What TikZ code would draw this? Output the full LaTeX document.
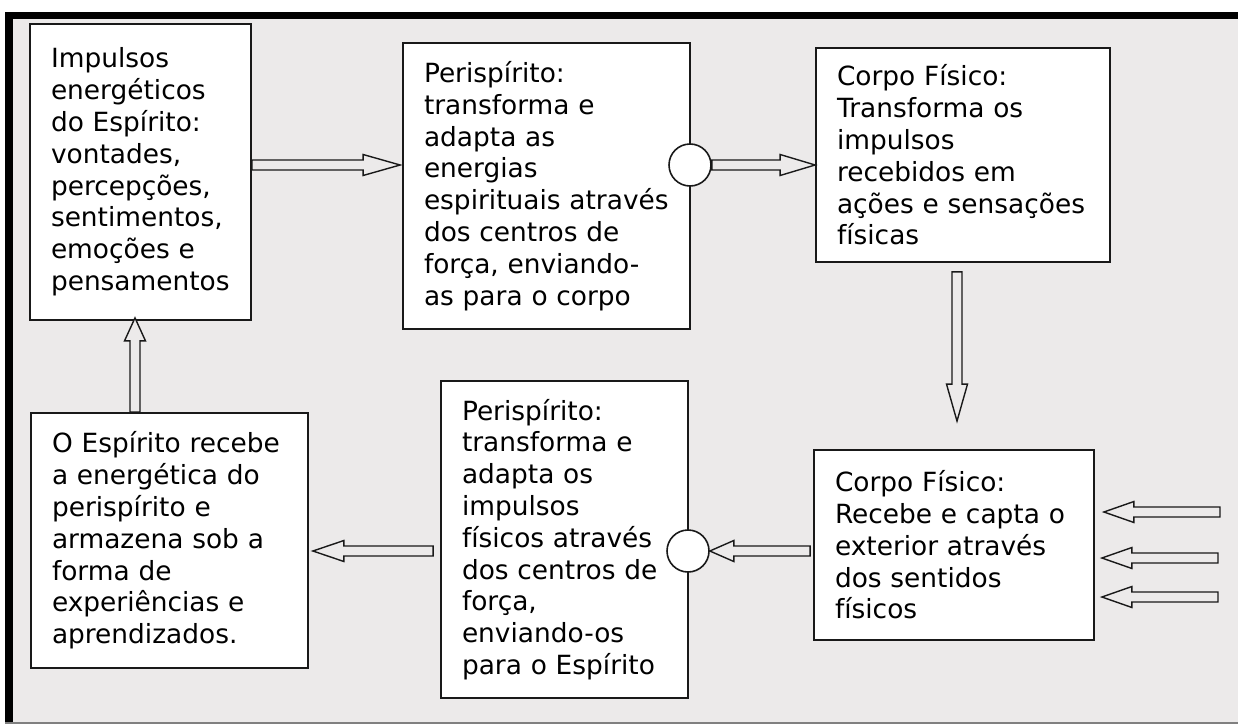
\documentclass[tikz,border=0pt]{standalone}
\usepackage{fontspec}
\setmainfont{DejaVu Sans}
\usetikzlibrary{calc}
\definecolor{bgc}{RGB}{236,234,234}
\definecolor{edge}{RGB}{25,25,25}
\newcommand\bxfont{\fontsize{26.4pt}{31.8pt}\selectfont}
% block arrow from #2 (tail) to #3 (tip), head length #1
\newcommand\blockarr[3][33pt]{%
  \path (#2) coordinate (ta) (#3) coordinate (tb);
  \path ($(tb)!#1!(ta)$) coordinate (hb);
  \draw[arrline] ($(ta)!5pt!90:(tb)$) -- ($(hb)!5pt!90:(tb)$) -- ($(hb)!10.5pt!90:(tb)$) -- (tb)
     -- ($(hb)!10.5pt!-90:(tb)$) -- ($(hb)!5pt!-90:(tb)$) -- ($(ta)!5pt!-90:(tb)$) -- cycle;}
\begin{document}
\begin{tikzpicture}[x=1pt,y=-1pt,
  box/.style={draw=edge, line width=1.8pt, fill=white, align=left, inner xsep=0pt, inner ysep=0pt, font=\bxfont},
  circ/.style={circle, draw=edge, line width=1.6pt, fill=white, minimum size=42pt, inner sep=0pt},
  arrline/.style={draw=edge, line width=1.4pt, fill=bgc, line join=miter}]
\useasboundingbox (0,0) rectangle (1238,725);
% frame
\fill[bgc] (5,12) rectangle (1242,724);
\fill[black] (5,12) rectangle (1242,19);
\fill[black] (5,12) rectangle (12.6,724);
\draw[black!50, line width=1.6pt] (5,723.2) -- (1242,723.2);
% boxes
\node[box, minimum width=221pt, minimum height=296pt, text width=179pt] (A) at (140.5,172)
  {Impulsos\\energéticos\\do~Espírito:\\vontades,\\percepções,\\sentimentos,\\emoções~e\\pensamentos};
\node[box, minimum width=287pt, minimum height=286pt, text width=245pt] (B) at (546.5,186)
  {Perispírito:\\transforma~e\\adapta~as\\energias\\espirituais~através\\dos~centros~de\\força,~enviando-\\as~para~o~corpo};
\node[box, minimum width=294pt, minimum height=214pt, text width=252pt] (C) at (963,155)
  {Corpo~Físico:\\Transforma~os\\impulsos\\recebidos~em\\ações~e~sensações\\físicas};
\node[box, minimum width=280pt, minimum height=190pt, text width=238pt] (D) at (954,545)
  {Corpo~Físico:\\Recebe~e~capta~o\\exterior~através\\dos~sentidos\\físicos};
\node[box, minimum width=247pt, minimum height=317pt, text width=205pt] (E) at (564.5,539.5)
  {Perispírito:\\transforma~e\\adapta~os\\impulsos\\físicos~através\\dos~centros~de\\força,\\enviando-os\\para~o~Espírito};
\node[box, minimum width=277pt, minimum height=255pt, text width=235pt] (F) at (169.5,540.5)
  {O~Espírito~recebe\\a~energética~do\\perispírito~e\\armazena~sob~a\\forma~de\\experiências~e\\aprendizados.};
% circles
\node[circ] (c1) at (690,165) {};
\node[circ] (c2) at (688,551) {};
% free ends of the outside arrows
\coordinate (x1) at (1220,512);
\coordinate (x2) at (1218,558);
\coordinate (x3) at (1218,597);
% arrows
\blockarr[37pt]{A.east |- c1}{$(B.west |- c1)+(-2,0)$}
\blockarr[35pt]{c1.east}{C.west |- c1}
\blockarr[37pt]{$(C.south)+(-6,9)$}{$(C.south |- D.north)+(-6,-28)$}
\blockarr[30pt]{x1}{$(D.east |- x1)+(9,0)$}
\blockarr[30pt]{x2}{$(D.east |- x2)+(7,0)$}
\blockarr[30pt]{x3}{$(D.east |- x3)+(7,0)$}
\blockarr[24pt]{$(D.west |- c2)+(-3,0)$}{c2.east}
\blockarr[31pt]{$(E.west |- c2)+(-7,0)$}{$(F.east |- c2)+(4,0)$}
\blockarr[23pt]{$(F.north)+(-34.5,0)$}{$(A.south)+(-5.5,-3)$}
\end{tikzpicture}
\end{document}
